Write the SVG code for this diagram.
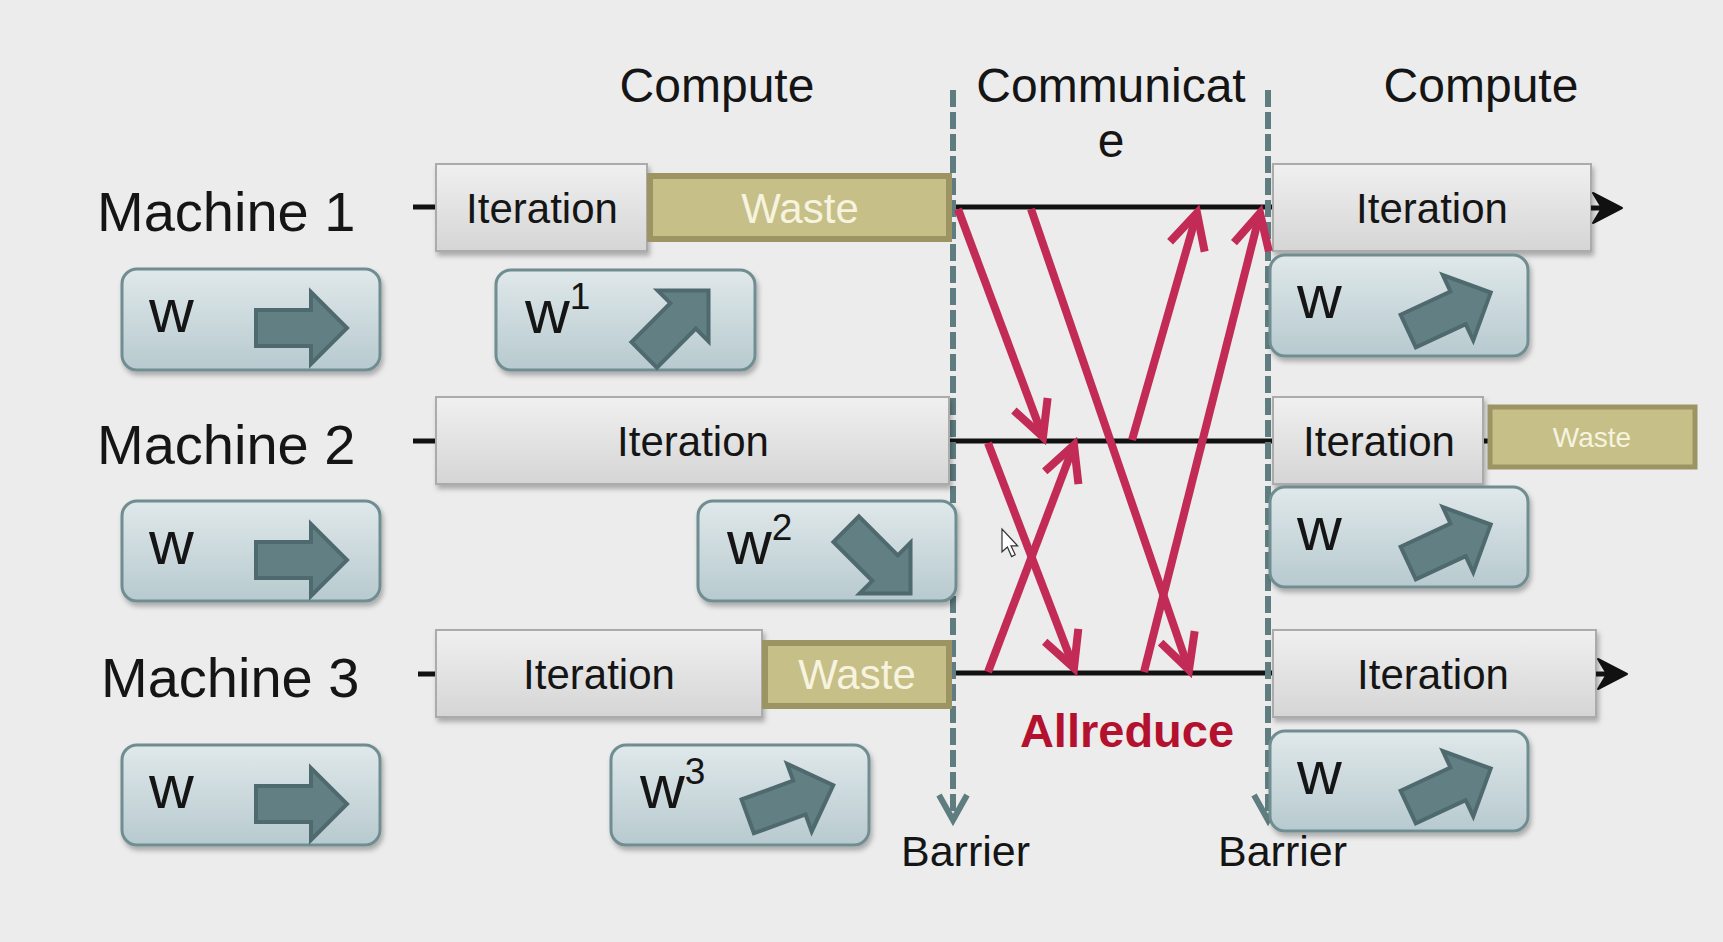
<svg xmlns="http://www.w3.org/2000/svg" xmlns:xlink="http://www.w3.org/1999/xlink" width="1723" height="942" viewBox="0 0 1723 942">
<defs>
<linearGradient id="gIter" x1="0" y1="0" x2="0" y2="1">
<stop offset="0" stop-color="#f0f0f0"/><stop offset="1" stop-color="#d5d5d5"/>
</linearGradient>
<linearGradient id="gW" x1="0" y1="0" x2="0" y2="1">
<stop offset="0" stop-color="#e0e8ea"/><stop offset="1" stop-color="#b7cacf"/>
</linearGradient>
<filter id="sh" x="-10%" y="-10%" width="125%" height="135%">
<feDropShadow dx="2" dy="4" stdDeviation="2.5" flood-color="#000" flood-opacity="0.28"/>
</filter>
<marker id="redHead" markerUnits="userSpaceOnUse" viewBox="-44 -24 52 48" markerWidth="52" markerHeight="48" refX="0" refY="0" orient="auto" overflow="visible">
<path d="M-35,-18 L0,0 L-35,18" fill="none" stroke="#c22b56" stroke-width="8" stroke-linejoin="miter" stroke-miterlimit="10"/>
</marker>
<marker id="barHead" markerUnits="userSpaceOnUse" viewBox="-30 -20 36 40" markerWidth="36" markerHeight="40" refX="0" refY="0" orient="auto" overflow="visible">
<path d="M-25,-14 L0,0 L-25,14" fill="none" stroke="#5f7d80" stroke-width="6" stroke-linejoin="miter"/>
</marker>
<path id="bigArrow" d="M-45,-18 H10 V-36 L46,0 L10,36 V18 H-45 Z"/>
</defs>
<style>
text{font-family:"Liberation Sans",Arial,Helvetica,sans-serif;fill:#151515}
.hdr{font-size:48px;text-anchor:middle}
.mach{font-size:56px}
.iter{fill:url(#gIter);stroke:#ababab;stroke-width:2;filter:url(#sh)}
.itxt{font-size:42px;text-anchor:middle}
.waste{fill:#c7bf88;stroke:#9c9463;stroke-width:6}
.wtxt{font-size:42px;text-anchor:middle;fill:#f6f3df}
.wbox{fill:url(#gW);stroke:#6f8d91;stroke-width:3;filter:url(#sh)}
.wl{font-size:62px}
.sup{font-size:37px}
.arr{fill:#627f83;stroke:#4f6a6e;stroke-width:4;stroke-linejoin:miter}
.tl{stroke:#111;stroke-width:5;fill:none}
.red{stroke:#c22b56;stroke-width:8;fill:none;marker-end:url(#redHead)}
.bar{stroke:#5f7d80;stroke-width:6;stroke-dasharray:17 5;fill:none}
.bt{font-size:43px}
</style>
<rect x="0" y="0" width="1723" height="942" fill="#ececec"/>

<g id="headers">
<text class="hdr" x="717" y="102">Compute</text>
<text class="hdr" x="1111" y="102">Communicat</text>
<text class="hdr" x="1111" y="157">e</text>
<text class="hdr" x="1481" y="102">Compute</text>
</g>

<g id="connectors">
<line class="tl" x1="413" y1="207" x2="437" y2="207"/>
<line class="tl" x1="413" y1="441" x2="437" y2="441"/>
<line class="tl" x1="418" y1="674" x2="437" y2="674"/>
<line class="tl" x1="950" y1="207" x2="1273" y2="207"/>
<line class="tl" x1="948" y1="441" x2="1273" y2="441"/>
<line class="tl" x1="950" y1="673" x2="1273" y2="673"/>
<line class="tl" x1="1482" y1="441" x2="1490" y2="441"/>
</g>

<g id="barrier1">
<line class="bar" x1="953" y1="90" x2="953" y2="820" marker-end="url(#barHead)"/>
<text class="bt" x="901" y="866">Barrier</text>
</g>
<g id="barrier2">
<line class="bar" x1="1268" y1="90" x2="1268" y2="820" marker-end="url(#barHead)"/>
<text class="bt" x="1218" y="866">Barrier</text>
</g>

<g id="machine1">
<text class="mach" x="97" y="231">Machine 1</text>
<rect class="iter" x="436" y="164" width="211" height="87"/>
<text class="itxt" x="542" y="223">Iteration</text>
<rect class="waste" x="650" y="176" width="299" height="63"/>
<text class="wtxt" x="800" y="223">Waste</text>
</g>
<g id="w-m1">
<rect class="wbox" x="122" y="269" width="258" height="101" rx="15"/>
<text class="wl" x="149" y="332">w</text>
<use href="#bigArrow" class="arr" transform="translate(301,328)"/>
</g>
<g id="w1">
<rect class="wbox" x="496" y="270" width="259" height="100" rx="15"/>
<text class="wl" x="525" y="333">w<tspan class="sup" dy="-24">1</tspan></text>
<use href="#bigArrow" class="arr" transform="translate(676,323) rotate(-45)"/>
</g>

<g id="machine2">
<text class="mach" x="97" y="464">Machine 2</text>
<rect class="iter" x="436" y="397" width="513" height="87"/>
<text class="itxt" x="693" y="456">Iteration</text>
</g>
<g id="w-m2">
<rect class="wbox" x="122" y="501" width="258" height="100" rx="15"/>
<text class="wl" x="149" y="564">w</text>
<use href="#bigArrow" class="arr" transform="translate(301,560)"/>
</g>
<g id="w2">
<rect class="wbox" x="698" y="501" width="258" height="100" rx="15"/>
<text class="wl" x="727" y="564">w<tspan class="sup" dy="-24">2</tspan></text>
<use href="#bigArrow" class="arr" transform="translate(878,561) rotate(45)"/>
</g>

<g id="machine3">
<text class="mach" x="101" y="697">Machine 3</text>
<rect class="iter" x="436" y="630" width="326" height="87"/>
<text class="itxt" x="599" y="689">Iteration</text>
<rect class="waste" x="765" y="643" width="184" height="63"/>
<text class="wtxt" x="857" y="689">Waste</text>
</g>
<g id="w-m3">
<rect class="wbox" x="122" y="745" width="258" height="100" rx="15"/>
<text class="wl" x="149" y="808">w</text>
<use href="#bigArrow" class="arr" transform="translate(301,804)"/>
</g>
<g id="w3">
<rect class="wbox" x="611" y="745" width="258" height="100" rx="15"/>
<text class="wl" x="640" y="808">w<tspan class="sup" dy="-24">3</tspan></text>
<use href="#bigArrow" class="arr" transform="translate(790,801) rotate(-20)"/>
</g>

<g id="next-m1">
<rect class="iter" x="1273" y="164" width="318" height="87"/>
<text class="itxt" x="1432" y="223">Iteration</text>
<line class="tl" x1="1591" y1="208" x2="1604" y2="208"/>
<path d="M1622,208 L1593,193 L1602,208 L1593,223 Z" fill="#111" stroke="#111" stroke-width="2" stroke-linejoin="round"/>
</g>
<g id="next-w-m1">
<rect class="wbox" x="1270" y="255" width="258" height="101" rx="15"/>
<text class="wl" x="1297" y="318">w</text>
<use href="#bigArrow" class="arr" transform="translate(1449,312) rotate(-25)"/>
</g>

<g id="next-m2">
<rect class="iter" x="1273" y="397" width="210" height="87"/>
<text class="itxt" x="1379" y="456">Iteration</text>
<rect class="waste" x="1490" y="407" width="205" height="60" style="stroke-width:5"/>
<text class="wtxt" x="1592" y="447" style="font-size:28px">Waste</text>
</g>
<g id="next-w-m2">
<rect class="wbox" x="1270" y="487" width="258" height="100" rx="15"/>
<text class="wl" x="1297" y="550">w</text>
<use href="#bigArrow" class="arr" transform="translate(1449,544) rotate(-25)"/>
</g>

<g id="next-m3">
<rect class="iter" x="1273" y="630" width="323" height="87"/>
<text class="itxt" x="1433" y="689">Iteration</text>
<line class="tl" x1="1596" y1="674" x2="1609" y2="674"/>
<path d="M1627,674 L1598,659 L1607,674 L1598,689 Z" fill="#111" stroke="#111" stroke-width="2" stroke-linejoin="round"/>
</g>
<g id="next-w-m3">
<rect class="wbox" x="1270" y="731" width="258" height="100" rx="15"/>
<text class="wl" x="1297" y="794">w</text>
<use href="#bigArrow" class="arr" transform="translate(1449,788) rotate(-25)"/>
</g>

<g id="allreduce-arrows">
<line class="red" x1="958" y1="209" x2="1043" y2="437"/>
<line class="red" x1="1031" y1="209" x2="1189" y2="670"/>
<line class="red" x1="1132" y1="440" x2="1197" y2="213"/>
<line class="red" x1="1144" y1="672" x2="1260" y2="213"/>
<line class="red" x1="988" y1="443" x2="1074" y2="668"/>
<line class="red" x1="988" y1="672" x2="1074" y2="445"/>
</g>

<g id="allreduce-label">
<text x="1127" y="747" style="font-size:47px;font-weight:bold;fill:#b3112e;text-anchor:middle">Allreduce</text>
</g>

<path d="M0,0 L0,19 L4.5,15 L8,23 L11,21.5 L7.5,14 L13,14 Z" transform="translate(1002,529) scale(1.2)" fill="#fff" stroke="#333" stroke-width="1"/>
</svg>
